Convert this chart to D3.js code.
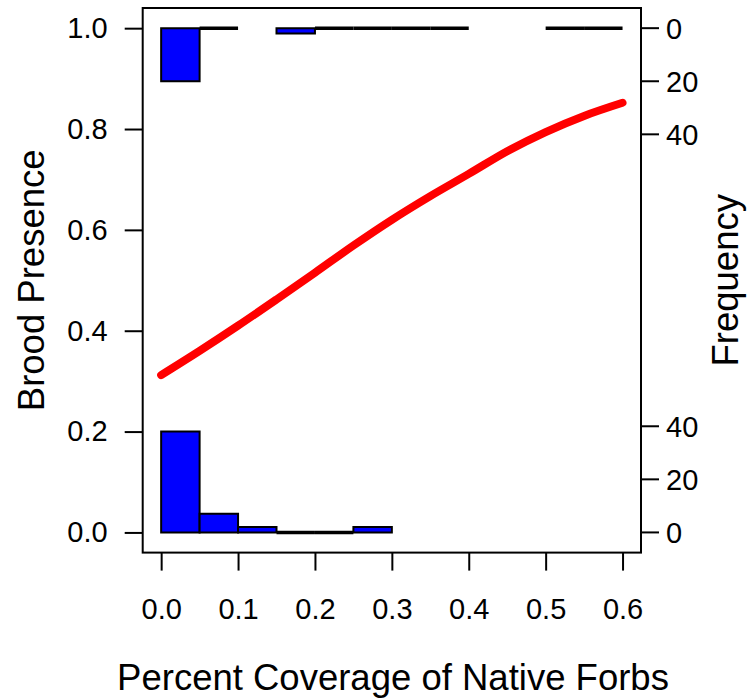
<!DOCTYPE html>
<html>
<head>
<meta charset="utf-8">
<script src="https://cdn.jsdelivr.net/npm/d3@7"></script>
<style>
  html, body { margin: 0; padding: 0; background: #fff; }
  svg { display: block; }
  text { font-family: "Liberation Sans", Arial, Helvetica, sans-serif; fill: #000; }
</style>
</head>
<body>
<svg id="chart" width="752" height="698"></svg>
<script>
// Histogram bins of native forb coverage (width 0.05, starting at 0)
const binWidth = 0.05;
// Counts of sites without broods (drawn upward from 0)
const absentCounts = [38, 7, 2, 0, 0, 2];
// Counts of sites with broods (drawn downward from 1); null = bin not drawn
const presentCounts = [20, 0, null, 2, 0, 0, 0, 0, null, null, 0, 0];

// Fitted probability of brood presence along coverage
const curveX = [0, 0.05, 0.10, 0.15, 0.20, 0.25, 0.30, 0.35, 0.40, 0.45, 0.50, 0.55, 0.60];
const curveP = [0.312, 0.360, 0.410, 0.462, 0.515, 0.569, 0.620, 0.667, 0.711, 0.756, 0.794, 0.826, 0.852];

// Axis ticks
const xTicks = [0, 0.1, 0.2, 0.3, 0.4, 0.5, 0.6];
const yTicks = [0, 0.2, 0.4, 0.6, 0.8, 1.0];
const freqTicks = [0, 20, 40];

const svg = d3.select("#chart");
const box = { left: 142.7, right: 641, top: 8, bottom: 552.6 };

const x = d3.scaleLinear().domain([-0.024, 0.624]).range([box.left, box.right]);
const y = d3.scaleLinear().domain([-0.04, 1.04]).range([box.bottom, box.top]);

// Histogram heights: tallest bin spans 0.2 of the probability axis
const maxCount = d3.max(absentCounts.concat(presentCounts.filter(c => c != null)));
const freq = d3.scaleLinear().domain([0, maxCount]).range([0, 0.2]);

const tickFont = 29, titleFont = 36.5;

// Bars (paths so that empty bins still show as a flat line)
function barPath(x0, x1, y0, y1) {
  return `M${x(x0)},${y(y0)}H${x(x1)}V${y(y1)}H${x(x0)}Z`;
}

svg.append("g").selectAll("path")
  .data(absentCounts)
  .join("path")
  .attr("d", (c, i) => barPath(i * binWidth, (i + 1) * binWidth, 0, freq(c)))
  .attr("fill", "#0000ff")
  .attr("stroke", "#000")
  .attr("stroke-width", c => c === 0 ? 3.5 : 2);

svg.append("g").selectAll("path")
  .data(presentCounts.map((c, i) => ({ c, i })).filter(d => d.c != null))
  .join("path")
  .attr("d", d => barPath(d.i * binWidth, (d.i + 1) * binWidth, 1, 1 - freq(d.c)))
  .attr("fill", "#0000ff")
  .attr("stroke", "#000")
  .attr("stroke-width", d => d.c === 0 ? 3.5 : 2);

// Fitted logistic curve
const line = d3.line().x((d, i) => x(curveX[i])).y(d => y(d)).curve(d3.curveMonotoneX);
svg.append("path")
  .datum(curveP)
  .attr("d", line)
  .attr("fill", "none")
  .attr("stroke", "#ff0000")
  .attr("stroke-width", 8)
  .attr("stroke-linecap", "round")
  .attr("stroke-linejoin", "round");

// Plot frame
svg.append("rect")
  .attr("x", box.left).attr("y", box.top)
  .attr("width", box.right - box.left).attr("height", box.bottom - box.top)
  .attr("fill", "none").attr("stroke", "#000").attr("stroke-width", 2);

// Bottom axis
const xAxis = d3.axisBottom(x).tickValues(xTicks).tickFormat(d3.format(".1f"))
  .tickSizeInner(18).tickSizeOuter(0).tickPadding(28);
const gx = svg.append("g").attr("transform", `translate(0,${box.bottom})`).call(xAxis);
gx.select(".domain").remove();
gx.selectAll("line").attr("stroke", "#000").attr("stroke-width", 2);
gx.selectAll("text").attr("font-size", tickFont).attr("fill", "#000")
  .attr("font-family", '"Liberation Sans", Arial, sans-serif').attr("dy", "0.71em");

// Left axis
const yAxis = d3.axisLeft(y).tickValues(yTicks).tickFormat(d3.format(".1f"))
  .tickSizeInner(18).tickSizeOuter(0).tickPadding(17);
const gy = svg.append("g").attr("transform", `translate(${box.left},0)`).call(yAxis);
gy.select(".domain").remove();
gy.selectAll("line").attr("stroke", "#000").attr("stroke-width", 2);
gy.selectAll("text").attr("font-size", tickFont).attr("fill", "#000")
  .attr("font-family", '"Liberation Sans", Arial, sans-serif');

// Right frequency axes (bottom for absences, top for presences)
function freqAxis(toY) {
  const g = svg.append("g").attr("transform", `translate(${box.right},0)`);
  const ticks = g.selectAll("g").data(freqTicks).join("g")
    .attr("transform", d => `translate(0,${y(toY(d))})`);
  ticks.append("line").attr("x1", 0).attr("x2", 18)
    .attr("stroke", "#000").attr("stroke-width", 2);
  ticks.append("text").attr("x", 25).attr("dy", "0.36em")
    .attr("font-size", tickFont).text(d => d);
}
freqAxis(c => freq(c));
freqAxis(c => 1 - freq(c));

// Axis titles
svg.append("text")
  .attr("x", 393)
  .attr("y", 690)
  .attr("text-anchor", "middle")
  .attr("font-size", titleFont)
  .text("Percent Coverage of Native Forbs");

svg.append("text")
  .attr("transform", `translate(44,${(box.top + box.bottom) / 2}) rotate(-90)`)
  .attr("text-anchor", "middle")
  .attr("font-size", titleFont)
  .text("Brood Presence");

svg.append("text")
  .attr("transform", `translate(738,${(box.top + box.bottom) / 2}) rotate(-90)`)
  .attr("text-anchor", "middle")
  .attr("font-size", titleFont)
  .text("Frequency");
</script>
</body>
</html>
